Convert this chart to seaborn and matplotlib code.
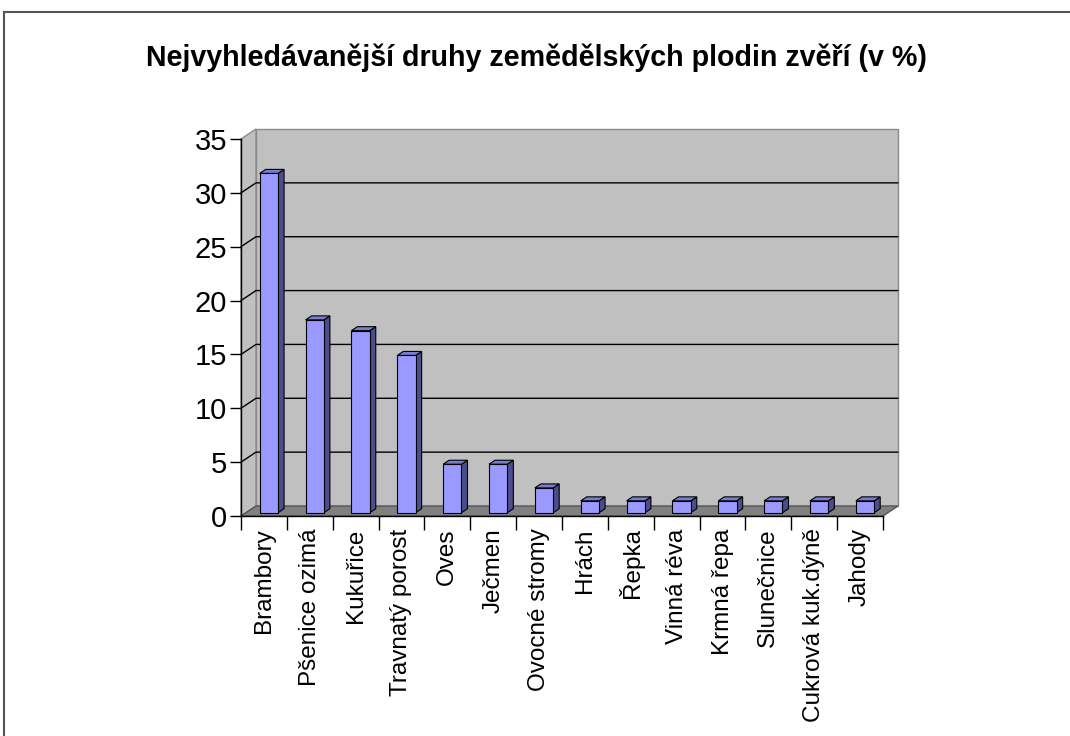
import numpy as np
import pandas as pd
import matplotlib
matplotlib.use("Agg")
import matplotlib.pyplot as plt
import seaborn as sns
from matplotlib.patches import Polygon, Rectangle
from matplotlib.transforms import IdentityTransform, offset_copy

# ---- data ----
categories = ["Brambory", "Pšenice ozimá", "Kukuřice", "Travnatý porost", "Oves",
              "Ječmen", "Ovocné stromy", "Hrách", "Řepka", "Vinná réva",
              "Krmná řepa", "Slunečnice", "Cukrová kuk.dýně", "Jahody"]
values = [31.5, 17.9, 16.9, 14.6, 4.5, 4.5, 2.3, 1.1, 1.1, 1.1, 1.1, 1.1, 1.1, 1.1]
y_ticks = [0, 5, 10, 15, 20, 25, 30, 35]
title = "Nejvyhledávanější druhy zemědělských plodin zvěří (v %)"

sns.set_theme(style="white")
plt.rcParams['font.family'] = ['Liberation Sans', 'DejaVu Sans']

W, H = 1070, 736
fig = plt.figure(figsize=(W / 100, H / 100), dpi=100)
fig.patch.set_facecolor("white")

# front plane of the 3D box (pixels): x 241..883, y 516 (0) .. 139 (35)
ax = fig.add_axes([241 / W, (H - 516) / H, (883 - 241) / W, (516 - 139) / H])
ax.patch.set_visible(False)

df = pd.DataFrame({"crop": categories, "pct": values})
sns.barplot(data=df, x="crop", y="pct", color="#9999ff", saturation=1,
            width=0.4, edgecolor="black", linewidth=0.8, ax=ax, zorder=3)

n = len(categories)
ax.set_xlim(-0.5, n - 0.5)
ax.set_ylim(y_ticks[0], y_ticks[-1])
ax.set_autoscale_on(False)

DX, DY = 15.0, 10.0          # full depth offset in pixels
D0, D1 = 0.33, 0.73          # bar front / back depth fractions

def P(x, y, d):
    px = ax.transData.transform((x, y))
    return (px[0] + d * DX, px[1] + d * DY)

x0, x1 = -0.5, n - 0.5
y0, y1 = y_ticks[0], y_ticks[-1]
wall_kw = dict(transform=IdentityTransform(), clip_on=False)

# back wall
ax.add_patch(Polygon([P(x0, y0, 1), P(x1, y0, 1), P(x1, y1, 1), P(x0, y1, 1)],
                     facecolor="#c0c0c0", edgecolor="#8a8a8a", lw=1, zorder=0.5, **wall_kw))
# left side wall
ax.add_patch(Polygon([P(x0, y0, 0), P(x0, y0, 1), P(x0, y1, 1), P(x0, y1, 0)],
                     facecolor="#c0c0c0", edgecolor="#8a8a8a", lw=1, zorder=0.5, **wall_kw))
# floor
ax.add_patch(Polygon([P(x0, y0, 0), P(x1, y0, 0), P(x1, y0, 1), P(x0, y0, 1)],
                     facecolor="#808080", edgecolor="#555555", lw=1, zorder=0.6, **wall_kw))

# gridlines on back wall and side wall
for v in y_ticks[1:-1]:
    a, b = P(x0, v, 0), P(x0, v, 1)
    c = P(x1, v, 1)
    ax.add_line(plt.Line2D([a[0], b[0], c[0]], [a[1], b[1], c[1]], color="black",
                           lw=1.0, zorder=0.7, transform=IdentityTransform(), clip_on=False))

# bars: shift seaborn's front faces into depth and add side + top faces
front_tr = offset_copy(ax.transData, fig=fig, x=D0 * DX, y=D0 * DY, units="dots")
for p in list(ax.patches):
    if not hasattr(p, "get_width") or isinstance(p, Polygon):
        continue
    bx0 = p.get_x()
    bx1 = bx0 + p.get_width()
    h = p.get_height()
    p.set_transform(front_tr)
    p.set_zorder(3)
    side = [P(bx1, 0, D0), P(bx1, h, D0), P(bx1, h, D1), P(bx1, 0, D1)]
    top = [P(bx0, h, D0), P(bx1, h, D0), P(bx1, h, D1), P(bx0, h, D1)]
    ax.add_patch(Polygon(side, facecolor="#4d4d8c", edgecolor="black", lw=0.8,
                         zorder=2.9, **wall_kw))
    ax.add_patch(Polygon(top, facecolor="#7b7bd0", edgecolor="black", lw=0.8,
                         zorder=2.9, **wall_kw))

# axes / ticks
for s in ["top", "right"]:
    ax.spines[s].set_visible(False)
for s in ["left", "bottom"]:
    ax.spines[s].set_visible(True)
    ax.spines[s].set_color("black")
    ax.spines[s].set_linewidth(1.0)
ax.set_yticks(y_ticks)
ax.set_yticklabels([str(t) for t in y_ticks], fontsize=21, color="black")
ax.tick_params(axis="y", direction="out", length=8, width=1, color="black", pad=2, left=True)

ax.set_xticks(range(n))
ax.set_xticklabels(categories, rotation=90, fontsize=17.5, color="black")
ax.tick_params(axis="x", which="major", length=0, pad=9)
ax.set_xticks(np.arange(n + 1) - 0.5, minor=True)
ax.tick_params(axis="x", which="minor", direction="out", length=10, width=1,
               color="black", bottom=True)
ax.set_xlabel("")
ax.set_ylabel("")
ax.grid(False)

# title
fig.text(536 / W, 1 - 58 / H, title, ha="center", va="center",
         fontsize=20.6, fontweight="bold", color="black")

# outer frame
fig.add_artist(Rectangle((4 / W, -0.05), 1.1, (H - 12) / H + 0.05, transform=fig.transFigure,
                         fill=False, edgecolor="#555555", lw=1.5))

fig.savefig("out.png", dpi=100)
